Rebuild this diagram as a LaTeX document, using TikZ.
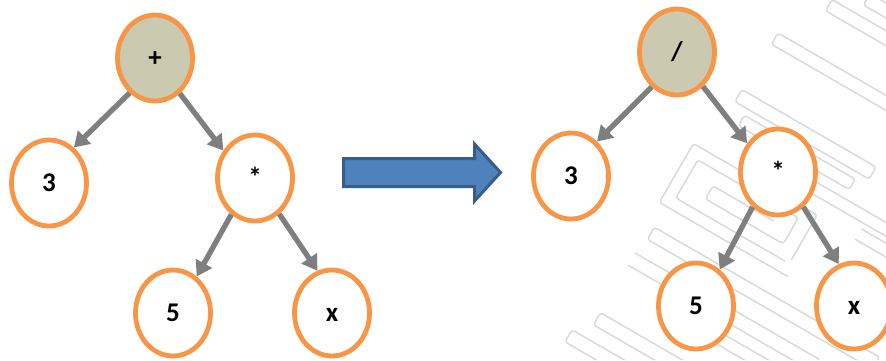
\documentclass[tikz,border=0pt]{standalone}
\usepackage{fontspec}
\setmainfont{Carlito}
\usetikzlibrary{shapes.geometric,arrows.meta}

\definecolor{nodeorange}{HTML}{F79646}
\definecolor{rootfill}{HTML}{CCC9B1}
\definecolor{edgegray}{HTML}{7F7F7F}
\definecolor{bigarrowfill}{HTML}{4F81BD}
\definecolor{bigarrowline}{HTML}{385D8A}
\definecolor{keyline}{HTML}{DADADA}

\tikzset{
  treenode/.style={ellipse, draw=nodeorange, line width=4.8pt, fill=white,
    minimum width=75pt, minimum height=86pt, inner sep=0pt,
    font=\fontsize{27}{32}\selectfont\bfseries, text height=17pt, text depth=0pt},
  rootnode/.style={treenode, fill=rootfill},
  treeedge/.style={draw=edgegray, line width=5.3pt,
    -{Triangle[length=15pt,width=18pt]}},
  bigarrow/.style={fill=bigarrowfill, draw=bigarrowline, line width=3pt, line join=miter},
  keystrip/.style={draw=keyline, line width=1.5pt, rounded corners=3pt}
}

\begin{document}
\begin{tikzpicture}[x=1pt, y=-1pt]
  \useasboundingbox (0,0) rectangle (886,360);
  \fill[white] (0,0) rectangle (886,360);

  % faint meander ornament in the lower right
  \begin{scope}
    \clip (720,0) -- (886,0) -- (886,360) -- (470,360) -- cycle;
    \begin{scope}[shift={(778,33)}, rotate=-30]
      \draw[keystrip] (0,0) rectangle (320,13);
      \draw[keystrip] (30,-56) rectangle (320,-43);
      \draw[keystrip] (60,-80) rectangle (320,-67);
      \draw[keystrip] (-3,67) rectangle (152,81);
      \draw[keystrip] (12,88) rectangle (140,100);
      \draw[keystrip] (90,110) -- (260,110) -- (260,140) -- (170,140);
      \draw[keystrip] (100,122) -- (245,122) -- (245,128) -- (170,128);
      \draw[keystrip] (120,194) -- (-6,194) -- (-6,150) -- (110,150) -- (110,180) -- (20,180) -- (20,165) -- (90,165);
      \draw[keystrip] (130,206) -- (-18,206) -- (-18,138) -- (125,138) -- (125,190);
      \draw[keystrip] (-10,230) rectangle (250,244);
      \draw[keystrip] (-14,262) -- (200,262) -- (200,300) -- (60,300);
      \draw[keystrip] (-14,276) -- (185,276) -- (185,288) -- (60,288);
      \draw[keystrip] (-14,331) rectangle (250,345);
      \draw[keystrip] (-30,360) rectangle (250,374);
    \end{scope}
  \end{scope}

  % block arrow between the two trees
  \draw[bigarrow] (343.5,158.5) -- (474.5,158.5) -- (474.5,144) -- (500.5,172.5)
    -- (474.5,201) -- (474.5,186.5) -- (343.5,186.5) -- cycle;

  % expression tree: 3 + 5 * x
  \node[rootnode] (plusA) at (155,58) {+};
  \node[treenode] (threeA) at (49,183) {3};
  \node[treenode] (starA) at (255,178) {*};
  \node[treenode] (fiveA) at (173,313) {5};
  \node[treenode] (xA) at (332,313) {x};

  \draw[treeedge] (plusA.234) -- (threeA.55);
  \draw[treeedge] (plusA.305) -- (starA.139);
  \draw[treeedge] (starA.237) -- (fiveA.57);
  \draw[treeedge] (starA.304) -- (xA.109);

  % expression tree: 3 / 5 * x
  \node[rootnode] (divB) at (677,52) {/};
  \node[treenode] (threeB) at (571,176) {3};
  \node[treenode] (starB) at (778,172) {*};
  \node[treenode] (fiveB) at (696,306) {5};
  \node[treenode] (xB) at (854,306) {x};

  \draw[treeedge] (divB.234) -- (threeB.53);
  \draw[treeedge] (divB.307) -- (starB.137);
  \draw[treeedge] (starB.234) -- (fiveB.57);
  \draw[treeedge] (starB.306) -- (xB.110);
\end{tikzpicture}
\end{document}
